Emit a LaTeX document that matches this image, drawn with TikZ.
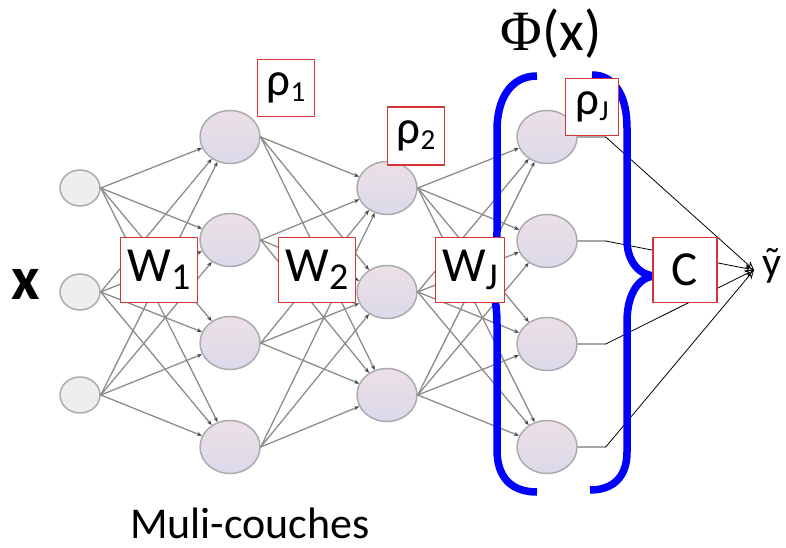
\documentclass[tikz,border=0pt]{standalone}
\usepackage{fontspec}
\setmainfont{Carlito}
\newfontfamily\phifont{Liberation Serif}
\usetikzlibrary{arrows.meta,shapes.geometric}
\definecolor{boxred}{RGB}{214,52,52}
\definecolor{unitedge}{RGB}{172,170,176}
\definecolor{unittop}{RGB}{236,224,230}
\definecolor{unitbot}{RGB}{220,217,234}
\definecolor{bracebl}{RGB}{0,0,255}
\newcommand{\wsub}[1]{\raisebox{-8pt}{\fontsize{38}{38}\selectfont #1}}
\newcommand{\rsub}[1]{\raisebox{-6pt}{\fontsize{29}{29}\selectfont #1}}
\begin{document}
\begin{tikzpicture}[x=1pt, y=-1pt, line cap=round, line join=round, >=Stealth]
	\tikzset{
		inunit/.style={ellipse, draw=unitedge, line width=1.5pt, fill=black!7, minimum width=40pt, minimum height=36pt, inner sep=0pt},
		hunit/.style={ellipse, draw=unitedge, line width=1.5pt, top color=unittop, bottom color=unitbot, minimum width=60pt, minimum height=53pt, inner sep=0pt},
		link/.style={draw=black!45, line width=1.3pt, -{Stealth[length=5pt, width=4pt, color=black!75]}},
		stub/.style={draw=black!35, line width=1.8pt},
		outlink/.style={draw=black, line width=0.8pt, -{Stealth[length=9pt, width=8pt, open]}},
		wbox/.style={draw=boxred, line width=1.3pt, fill=white, inner sep=0pt, minimum width=77pt, minimum height=65pt, font=\fontsize{49}{49}\selectfont},
		rbox/.style={draw=boxred, line width=1.3pt, fill=white, inner sep=0pt, minimum width=57pt, minimum height=57pt, font=\fontsize{47}{47}\selectfont},
		brace/.style={draw=bracebl, line width=7.5pt, line cap=butt}
	}
	\useasboundingbox (0,0) rectangle (786,548);
	% units
	\foreach \y [count=\i] in {188,292,395} \node[inunit] (in\i) at (80,\y) {};
	\foreach \y [count=\i] in {137,240,343,447} \node[hunit] (ha\i) at (230,\y) {};
	\foreach \y [count=\i] in {188,292,395} \node[hunit] (hb\i) at (387,\y) {};
	\foreach \y [count=\i] in {137,241,344,447} \node[hunit] (hc\i) at (547,\y) {};
	% connections
	\foreach \i in {1,2,3} \foreach \j in {1,...,4} \draw[link] (in\i.east) -- (ha\j);
	\foreach \i in {1,...,4} \foreach \j in {1,2,3} \draw[link] (ha\i.east) -- (hb\j);
	\foreach \i in {1,2,3} \foreach \j in {1,...,4} \draw[link] (hb\i.east) -- (hc\j);
	\coordinate (tip) at (754,270);
	\node[anchor=west, inner sep=0pt, font=\fontsize{42}{42}\selectfont] (yhat) at (762,266) {ỹ};
	\foreach \j in {1,...,4} {
		\draw[stub] (hc\j.east) -- ++(28,0) coordinate (o\j);
		\draw[outlink] (o\j) -- (tip);
	}
	% braces
	\draw[brace] (537,76) .. controls (510,76) and (497,100) .. (497,130) -- (497,232)
		.. controls (497,255) and (488,270) .. (474,270) .. controls (488,270) and (497,290) .. (497,325)
		-- (497,450) .. controls (497,478) and (512,492) .. (537,492);
	\draw[brace] (592,75) .. controls (616,75) and (627,98) .. (627,128) -- (627,240)
		.. controls (627,262) and (640,276) .. (656,276) .. controls (640,276) and (627,292) .. (627,322)
		-- (627,452) .. controls (627,478) and (612,490) .. (590,490);
	% labels
	\node[wbox] (w1) at (159,270) {W\wsub{1}};
	\node[wbox] (w2) at (317,270) {W\wsub{2}};
	\node[wbox, minimum width=69pt] (wj) at (470,270) {W\wsub{J}};
	\node[wbox, minimum width=64pt] (cc) at (685,270) {C};
	\node[rbox] (r1) at (286,88) {ρ\rsub{1}};
	\node[rbox, minimum height=58pt] (r2) at (416,136) {ρ\rsub{2}};
	\node[rbox, minimum width=53pt] (rj) at (592,107) {ρ\rsub{J}};
	\node[font=\fontsize{62}{62}\selectfont\bfseries] (xin) at (26,284) {x};
	\node[font=\fontsize{57}{57}\selectfont] (phi) at (551,34) {{\phifont Φ}(x)};
	\node[anchor=base, inner sep=0pt, font=\fontsize{44}{44}\selectfont] (mc) at (250,538) {Muli-couches};
\end{tikzpicture}
\end{document}
